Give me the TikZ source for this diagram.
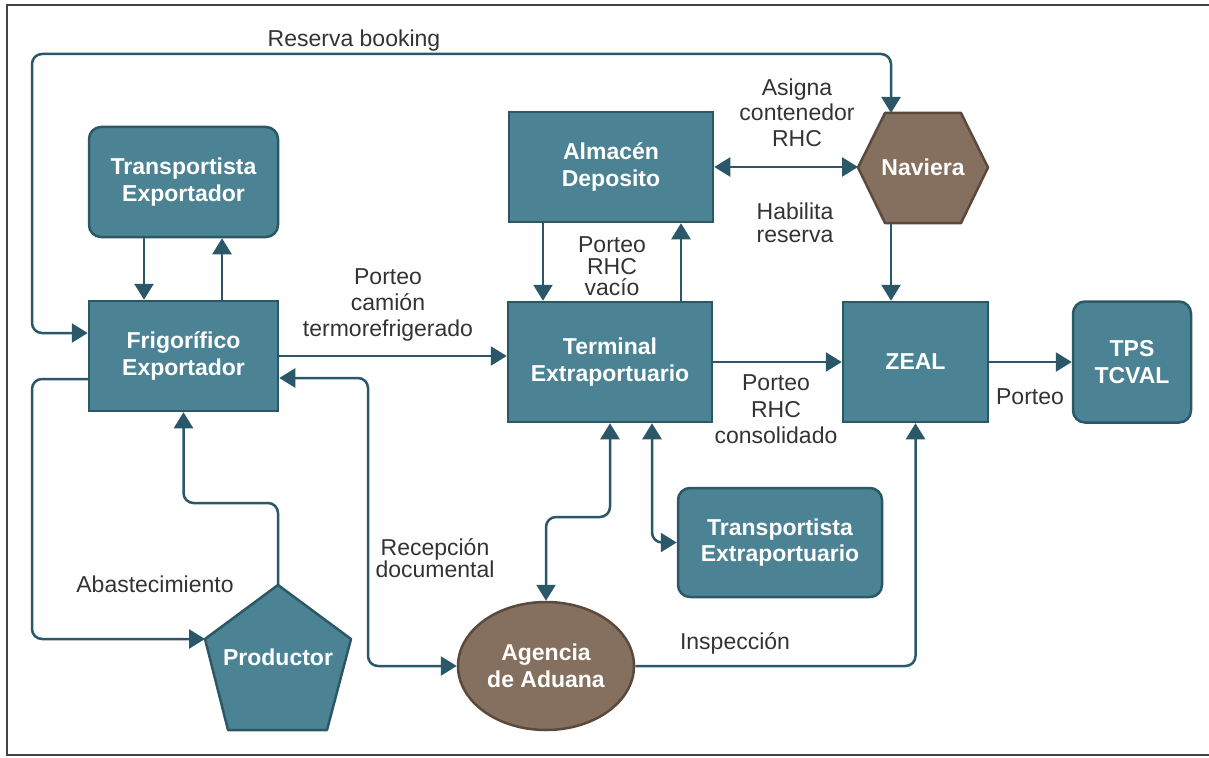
\documentclass[tikz,border=0pt]{standalone}
\usepackage{fontspec}
\setmainfont{Liberation Sans}
\usetikzlibrary{arrows.meta,shapes.geometric,calc}

\definecolor{tealfill}{HTML}{4B8394}
\definecolor{tealline}{HTML}{2C5866}
\definecolor{wire}{HTML}{2A5869}
\definecolor{brownfill}{HTML}{85705F}
\definecolor{brownline}{HTML}{5A4A3E}
\definecolor{labeltext}{HTML}{333333}
\definecolor{framecol}{HTML}{444444}

\begin{document}
\begin{tikzpicture}[x=1pt,y=-1pt,
  tip/.tip={Triangle[length=16pt,width=19pt]},
  box/.style={draw=tealline, fill=tealfill, line width=2.5pt, text=white,
    font=\fontsize{23}{26.5}\selectfont\bfseries, align=center, inner sep=0pt},
  roundbox/.style={box, rounded corners=12pt},
  txt/.style={text=white, font=\fontsize{23}{26.5}\selectfont\bfseries, align=center, inner sep=0pt},
  shapeline/.style={line width=2.5pt, line join=round},
  conn/.style={draw=wire, line width=2.5pt, rounded corners=10pt, -tip},
  biconn/.style={conn, tip-tip},
  lbl/.style={text=labeltext, font=\fontsize{23}{26}\selectfont, align=center, inner sep=0pt}
]
\useasboundingbox (0,0) rectangle (1209,757);

% outer frame
\draw[framecol, line width=2pt] (1209,5) -- (7,5) -- (7,755) -- (1209,755);

% rectangular stations
\node[roundbox, minimum width=189, minimum height=110] (trexp) at (183.5,182) {Transportista\\Exportador};
\node[box, minimum width=189, minimum height=110] (frig) at (183.5,356) {Frigorífico\\Exportador};
\node[box, minimum width=204, minimum height=110] (almacen) at (611,167) {Almacén\\Deposito};
\node[box, minimum width=204, minimum height=120] (terminal) at (610,362) {Terminal\\Extraportuario};
\node[box, minimum width=145, minimum height=120] (zeal) at (915.5,362) {ZEAL};
\node[roundbox, minimum width=118, minimum height=121] (tps) at (1132,362) {TPS\\TCVAL};
\node[roundbox, minimum width=204, minimum height=109] (trext) at (780,542.5) {Transportista\\Extraportuario};

% customs agency
\node[ellipse, draw=brownline, fill=brownfill, line width=2.5pt, text=white,
  font=\fontsize{23}{26.5}\selectfont\bfseries, align=center, inner sep=0pt,
  minimum width=176, minimum height=128] (agencia) at (546,666) {Agencia\\de Aduana};

% shipping line (hexagon)
\coordinate (nav-w) at (858,167.5);
\coordinate (nav-nw) at (885,113);
\coordinate (nav-ne) at (961,113);
\coordinate (nav-e) at (988,167.5);
\coordinate (nav-se) at (961,223);
\coordinate (nav-sw) at (885,223);
\draw[shapeline, draw=brownline, fill=brownfill]
  (nav-w) -- (nav-nw) -- (nav-ne) -- (nav-e) -- (nav-se) -- (nav-sw) -- cycle;
\node[txt, minimum width=130, minimum height=110] (naviera) at (923,167.5) {Naviera};

% producer (pentagon)
\coordinate (prod-t) at (278,585);
\coordinate (prod-r) at (351,639);
\coordinate (prod-br) at (327,730);
\coordinate (prod-bl) at (228,730);
\coordinate (prod-l) at (205,639);
\draw[shapeline, draw=tealline, fill=tealfill]
  (prod-t) -- (prod-r) -- (prod-br) -- (prod-bl) -- (prod-l) -- cycle;
\node[txt] (productor) at (278,657) {Productor};

% connectors
\draw[biconn] (frig.west |- 0,333) -- (32,333) -- (32,54) -- (891,54) -- (891,113);
\draw[conn] ([xshift=-39.5pt]trexp.south) -- ([xshift=-39.5pt]frig.north);
\draw[conn] ([xshift=38.5pt]frig.north) -- ([xshift=38.5pt]trexp.south);
\draw[conn] (frig.east) -- (frig.east -| terminal.west);
\draw[conn] (frig.west |- 0,379) -- (32,379) -- (32,639) -- (prod-l);
\draw[conn] (prod-t) -- (prod-t |- 0,503) -- (frig.south |- 0,503) -- (frig.south);
\draw[biconn] (agencia.west) -- (368,666) -- (368,378) -- (frig.east |- 0,378);
\draw[biconn] (almacen.east) -- (almacen.east -| nav-w);
\draw[conn] ([xshift=-68pt]almacen.south) -- ([xshift=-68pt]almacen.south |- terminal.north);
\draw[conn] ([xshift=71pt]terminal.north) -- ([xshift=71pt]terminal.north |- almacen.south);
\draw[conn] (nav-sw -| 891,0) -- (891,0 |- zeal.north);
\draw[conn] (terminal.east) -- (zeal.west);
\draw[conn] (zeal.east) -- (tps.west);
\draw[biconn] (agencia.north) -- (agencia.north |- 0,517) -- (terminal.south |- 0,517) -- (terminal.south);
\draw[biconn] ([xshift=42pt]terminal.south) -- ([xshift=42pt]terminal.south |- trext.west) -- (trext.west);
\draw[conn] (agencia.east) -- (agencia.east -| zeal.south) -- (zeal.south);

% connector labels
\node[lbl] (l-reserva) at (354,41) {Reserva booking};
\node[lbl] (l-camion) at (388,305) {Porteo\\camión\\termorefrigerado};
\node[lbl] (l-abast) at (155,584) {Abastecimiento};
\node[lbl, font=\fontsize{23}{20}\selectfont] (l-recep) at (435,558) {Recepción\\documental};
\node[lbl, font=\fontsize{23}{25.5}\selectfont] (l-asigna) at (797,112.5) {Asigna\\contenedor\\RHC};
\node[lbl, font=\fontsize{23}{23}\selectfont] (l-habilita) at (795,222.5) {Habilita\\reserva};
\node[lbl, font=\fontsize{23}{21.5}\selectfont] (l-vacio) at (612,266.5) {Porteo\\RHC\\vacío};
\node[lbl, font=\fontsize{23}{26.5}\selectfont] (l-consol) at (776,409.5) {Porteo\\RHC\\consolidado};
\node[lbl] (l-porteo) at (1030,397) {Porteo};
\node[lbl] (l-inspec) at (735,643) {Inspección};
\end{tikzpicture}
\end{document}
